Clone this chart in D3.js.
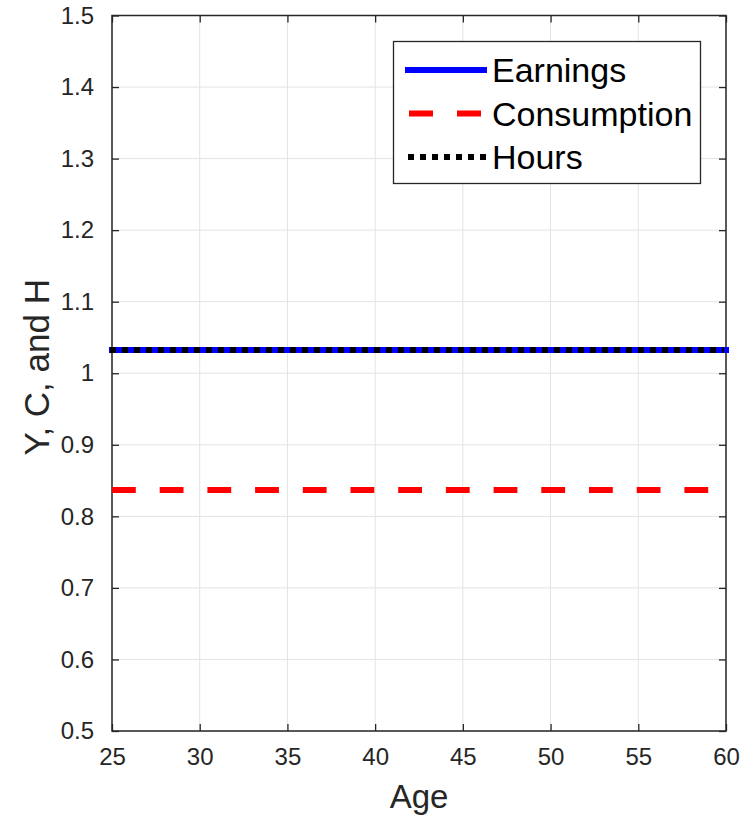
<!DOCTYPE html>
<html>
<head>
<meta charset="utf-8">
<script src="https://cdn.jsdelivr.net/npm/d3@7"></script>
<style>
  html, body { margin: 0; padding: 0; background: #fff; }
  svg { display: block; font-family: "Liberation Sans", Arial, Helvetica, sans-serif; }
</style>
</head>
<body>
<svg id="chart" width="745" height="819"></svg>
<script>
// ---- data ----
const ages = [25, 30, 35, 40, 45, 50, 55, 60];
const earnings = [1.0325, 1.0325, 1.0325, 1.0325, 1.0325, 1.0325, 1.0325, 1.0325];
const consumption = [0.837, 0.837, 0.837, 0.837, 0.837, 0.837, 0.837, 0.837];
const hours = [1.0325, 1.0325, 1.0325, 1.0325, 1.0325, 1.0325, 1.0325, 1.0325];
const xTicks = [25, 30, 35, 40, 45, 50, 55, 60];
const yTicks = [0.5, 0.6, 0.7, 0.8, 0.9, 1.0, 1.1, 1.2, 1.3, 1.4, 1.5];
const seriesNames = ["Earnings", "Consumption", "Hours"];
const xLabel = "Age";
const yLabel = "Y, C, and H";

// ---- layout ----
const svg = d3.select("#chart");
const L = 112, R = 726, T = 15.5, B = 731;
const x = d3.scaleLinear().domain([25, 60]).range([L, R]);
const y = d3.scaleLinear().domain([0.5, 1.5]).range([B, T]);
const axisColor = "#262626";
const gridColor = "#e3e3e3";
const tickLen = 7;

// grid
const grid = svg.append("g");
grid.selectAll("line.gx").data(xTicks).join("line")
  .attr("x1", d => x(d)).attr("x2", d => x(d)).attr("y1", T).attr("y2", B)
  .attr("stroke", gridColor).attr("stroke-width", 1);
grid.selectAll("line.gy").data(yTicks).join("line")
  .attr("y1", d => y(d)).attr("y2", d => y(d)).attr("x1", L).attr("x2", R)
  .attr("stroke", gridColor).attr("stroke-width", 1);

// axes (ticks inward on all four sides)
const fmt = d => d3.format("~g")(d);
const bottomAxis = d3.axisBottom(x).tickValues(xTicks).tickSize(-tickLen).tickPadding(tickLen + 10).tickFormat(fmt);
const leftAxis = d3.axisLeft(y).tickValues(yTicks).tickSize(-tickLen).tickPadding(tickLen + 11).tickFormat(fmt);
const topAxis = d3.axisTop(x).tickValues(xTicks).tickSize(-tickLen).tickFormat("");
const rightAxis = d3.axisRight(y).tickValues(yTicks).tickSize(-tickLen).tickFormat("");

function styleAxis(g) {
  g.select(".domain").remove();
  g.selectAll(".tick line").attr("stroke", axisColor).attr("stroke-width", 1.3);
  g.selectAll(".tick text").attr("fill", axisColor).attr("font-size", 24)
    .attr("font-family", "'Liberation Sans', Arial, sans-serif");
}
svg.append("g").attr("transform", `translate(0,${B})`).call(bottomAxis).call(styleAxis);
svg.append("g").attr("transform", `translate(${L},0)`).call(leftAxis).call(styleAxis);
svg.append("g").attr("transform", `translate(0,${T})`).call(topAxis).call(styleAxis);
svg.append("g").attr("transform", `translate(${R},0)`).call(rightAxis).call(styleAxis);

// box
svg.append("rect").attr("x", L).attr("y", T).attr("width", R - L).attr("height", B - T)
  .attr("fill", "none").attr("stroke", axisColor).attr("stroke-width", 1.5);

// series
const line = arr => d3.line().x((d, i) => x(ages[i])).y(d => y(d))(arr);
svg.append("path").attr("d", line(earnings)).attr("fill", "none")
  .attr("stroke", "#0000ff").attr("stroke-width", 6).attr("stroke-linecap", "square");
svg.append("path").attr("d", line(consumption)).attr("fill", "none")
  .attr("stroke", "#ff0000").attr("stroke-width", 6).attr("stroke-dasharray", "23.8,23.9");
svg.append("path").attr("d", line(hours)).attr("fill", "none")
  .attr("stroke", "#000000").attr("stroke-width", 6).attr("stroke-dasharray", "6,6")
  .attr("transform", "translate(-2,0)");

// labels
svg.append("text").attr("x", (L + R) / 2).attr("y", 808).attr("text-anchor", "middle")
  .attr("font-size", 33).attr("fill", axisColor).text(xLabel);
svg.append("text").attr("transform", `translate(49,${(T + B) / 2 - 6}) rotate(-90)`)
  .attr("text-anchor", "middle").attr("font-size", 35).attr("fill", axisColor).text(yLabel);

// legend
const lg = svg.append("g");
lg.append("rect").attr("x", 393.5).attr("y", 41.5).attr("width", 307).attr("height", 142)
  .attr("fill", "#fff").attr("stroke", axisColor).attr("stroke-width", 1.3);
const legendRows = [
  { name: seriesNames[0], color: "#0000ff", dash: null, x1: 405, x2: 487, yc: 70 },
  { name: seriesNames[1], color: "#ff0000", dash: "24,24", x1: 409, x2: 487, yc: 113.5 },
  { name: seriesNames[2], color: "#000000", dash: "6,6", x1: 408, x2: 486, yc: 157 }
];
legendRows.forEach(r => {
  lg.append("line").attr("x1", r.x1).attr("x2", r.x2).attr("y1", r.yc).attr("y2", r.yc)
    .attr("stroke", r.color).attr("stroke-width", 6)
    .attr("stroke-dasharray", r.dash);
  lg.append("text").attr("x", 492).attr("y", r.yc + 12).attr("font-size", 34)
    .attr("fill", "#000").text(r.name);
});
</script>
</body>
</html>
